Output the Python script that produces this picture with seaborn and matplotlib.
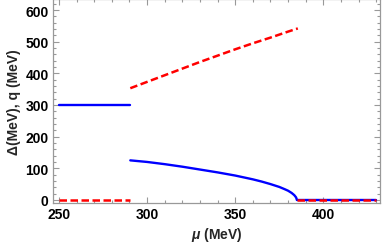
import numpy as np
import pandas as pd
import seaborn as sns
import matplotlib.pyplot as plt
from matplotlib.ticker import MultipleLocator

# values
mu_low = [250, 290.5]
gap_low = [300, 300]
q_low = [0, 0]

mu_gap = [290.5, 300, 310, 320, 330, 340, 350, 355, 360, 365, 370, 375, 378, 380, 382,
          383.5, 384.5, 385]
gap_mid = [125, 120, 113, 105, 96, 87, 77, 71, 65, 58, 50, 41, 34, 29, 22, 15, 8, 0]

mu_q = [290.5, 300, 310, 320, 330, 340, 350, 360, 370, 380, 385.5]
q_mid = [353, 373, 394, 415, 436, 456, 476, 495, 513, 532, 542]

mu_high = [385, 430]
gap_high = [0, 0]
q_high = [0, 0]

sns.set_style("ticks")
plt.rcParams['font.family'] = ['Liberation Sans', 'DejaVu Sans']
plt.rcParams['mathtext.fontset'] = 'custom'
plt.rcParams['mathtext.it'] = 'Liberation Sans:italic:bold'
plt.rcParams['mathtext.rm'] = 'Liberation Sans:bold'

fig = plt.figure(figsize=(3.86, 2.53), dpi=100)
ax = fig.add_axes([0.137, 0.194, 0.847, 0.806])

blue = (0, 0, 1)
red = (1, 0, 0)
dash = (3, 1.4)

sns.lineplot(x=mu_low, y=gap_low, color=blue, lw=1.7, ax=ax, sort=False)
sns.lineplot(x=mu_gap, y=gap_mid, color=blue, lw=1.7, ax=ax, sort=False)
sns.lineplot(x=mu_high, y=gap_high, color=blue, lw=1.7, ax=ax, sort=False)

for xs, ys in [(mu_low, q_low), (mu_q, q_mid), (mu_high, q_high)]:
    ln = sns.lineplot(x=xs, y=ys, color=red, lw=1.8, ax=ax, sort=False).lines[-1]
    ln.set_dashes(dash)

ax.set_xlim(246.6, 432)
ax.set_ylim(-9.5, 635)
ax.xaxis.set_major_locator(MultipleLocator(50))
ax.xaxis.set_minor_locator(MultipleLocator(10))
ax.yaxis.set_major_locator(MultipleLocator(100))
ax.yaxis.set_minor_locator(MultipleLocator(20))

gray = '#999999'
for s in ax.spines.values():
    s.set_color(gray)
    s.set_linewidth(0.9)
ax.tick_params(which='both', direction='in', top=True, right=True, color=gray,
               width=0.8, labelsize=10, labelcolor='black', pad=3)
ax.tick_params(which='major', length=4)
ax.tick_params(which='minor', length=2.3)
for lab in ax.get_xticklabels() + ax.get_yticklabels():
    lab.set_fontweight('bold')

ax.set_xlabel(r'$\mu$ (MeV)', fontsize=10, fontweight='bold', labelpad=3)
ax.set_ylabel('Δ(MeV), q (MeV)', fontsize=10, fontweight='bold', labelpad=3)

fig.savefig('out.png', dpi=100)
